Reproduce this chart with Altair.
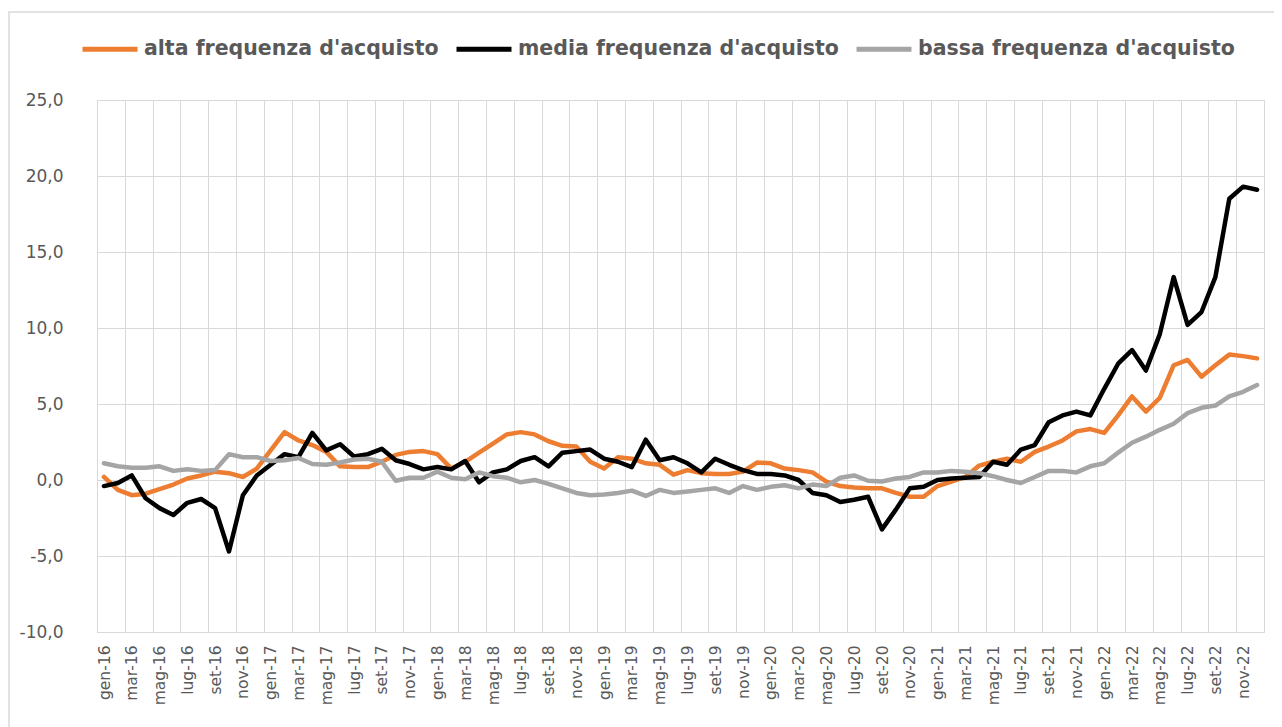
import altair as alt
import pandas as pd

mesi_abbr = ["gen", "feb", "mar", "apr", "mag", "giu", "lug", "ago", "set", "ott", "nov", "dic"]
anni = ["16", "17", "18", "19", "20", "21", "22"]
mesi = [f"{m}-{a}" for a in anni for m in mesi_abbr]

alta = [0.2, -0.65, -1.0, -0.9, -0.6, -0.3, 0.1, 0.3, 0.55, 0.45, 0.2, 0.75,
        1.95, 3.15, 2.6, 2.3, 1.85, 0.9, 0.85, 0.85, 1.2, 1.65, 1.85, 1.9,
        1.7, 0.75, 1.2, 1.8, 2.4, 3.0, 3.15, 3.0, 2.55, 2.25, 2.2, 1.2,
        0.75, 1.5, 1.4, 1.1, 1.0, 0.35, 0.65, 0.45, 0.4, 0.4, 0.55, 1.15,
        1.1, 0.75, 0.65, 0.5, -0.1, -0.4, -0.5, -0.55, -0.55, -0.85, -1.1, -1.1,
        -0.4, -0.1, 0.2, 0.95, 1.2, 1.4, 1.2, 1.85, 2.2, 2.6, 3.2, 3.35,
        3.1, 4.25, 5.5, 4.5, 5.4, 7.55, 7.9, 6.8, 7.55, 8.25, 8.15, 8.0]

media = [-0.4, -0.2, 0.3, -1.2, -1.85, -2.3, -1.5, -1.25, -1.85, -4.7, -1.0, 0.3,
         1.0, 1.7, 1.5, 3.1, 1.95, 2.35, 1.55, 1.7, 2.05, 1.3, 1.05, 0.7,
         0.85, 0.7, 1.25, -0.15, 0.5, 0.7, 1.25, 1.5, 0.9, 1.8, 1.9, 2.0,
         1.4, 1.2, 0.85, 2.65, 1.3, 1.5, 1.1, 0.5, 1.4, 1.0, 0.65, 0.4,
         0.4, 0.3, 0.0, -0.85, -1.0, -1.45, -1.3, -1.1, -3.25, -1.95, -0.55, -0.45,
         0.0, 0.1, 0.15, 0.2, 1.2, 1.0, 2.0, 2.3, 3.8, 4.25, 4.5, 4.25,
         6.0, 7.65, 8.55, 7.2, 9.6, 13.35, 10.2, 11.05, 13.35, 18.5, 19.3, 19.1]

bassa = [1.1, 0.9, 0.8, 0.8, 0.9, 0.6, 0.7, 0.6, 0.65, 1.7, 1.5, 1.5,
         1.25, 1.3, 1.45, 1.05, 1.0, 1.15, 1.35, 1.4, 1.2, -0.05, 0.15, 0.15,
         0.55, 0.15, 0.05, 0.5, 0.25, 0.15, -0.15, 0.0, -0.25, -0.55, -0.85, -1.0,
         -0.95, -0.85, -0.7, -1.05, -0.65, -0.85, -0.75, -0.65, -0.55, -0.85, -0.4, -0.65,
         -0.45, -0.35, -0.55, -0.3, -0.4, 0.15, 0.3, -0.05, -0.1, 0.1, 0.2, 0.5,
         0.5, 0.6, 0.55, 0.45, 0.25, 0.0, -0.2, 0.2, 0.6, 0.6, 0.5, 0.9,
         1.1, 1.8, 2.45, 2.85, 3.3, 3.7, 4.4, 4.75, 4.9, 5.5, 5.8, 6.25]

serie = ["alta frequenza d'acquisto", "media frequenza d'acquisto", "bassa frequenza d'acquisto"]
colori = ["#ED7D31", "#000000", "#A5A5A5"]
y_ticks = [-10, -5, 0, 5, 10, 15, 20, 25]

n = len(mesi)
# category boundaries every two months (gridlines), labels at category centres
x_grid = [i - 0.5 for i in range(0, n + 1, 2)]
mesi_js = "[" + ",".join(f"'{m}'" for m in mesi) + "]"
x_label_expr = f"datum.value + 0.5 < {n} ? {mesi_js}[datum.value + 0.5] : ''"

rows = []
for nome, vals in zip(serie, [alta, media, bassa]):
    for i, (m, v) in enumerate(zip(mesi, vals)):
        rows.append({"idx": i, "mese": m, "valore": v, "serie": nome})
df = pd.DataFrame(rows)

lines = alt.Chart(df).mark_line(strokeWidth=4.5, strokeJoin="round", strokeCap="round").encode(
    x=alt.X("idx:Q",
            scale=alt.Scale(domain=[-0.5, n - 0.5], nice=False, zero=False),
            axis=alt.Axis(title=None, values=x_grid, labelExpr=x_label_expr, labelAngle=-90,
                          labelFontSize=15.5, labelPadding=13, labelOffset=7, ticks=False,
                          labelFlush=False, labelOverlap=False, labelBound=False,
                          domainColor="#d9d9d9", gridColor="#d9d9d9", grid=True)),
    y=alt.Y("valore:Q", scale=alt.Scale(domain=[-10, 25], nice=False, zero=False),
            axis=alt.Axis(title=None, values=y_ticks, tickSize=0, ticks=False, domain=False,
                          labelFontSize=17, labelPadding=34, gridColor="#d9d9d9",
                          labelExpr="replace(replace(format(datum.value, '.1f'), '.', ','), '\u2212', '-')")),
    color=alt.Color("serie:N", sort=serie,
                    scale=alt.Scale(domain=serie, range=colori),
                    legend=alt.Legend(title=None, orient="none", direction="horizontal",
                                      legendX=-17, legendY=-81,
                                      symbolType="stroke", symbolSize=3025, symbolStrokeWidth=5,
                                      labelFontSize=20.5, labelFontWeight="bold", labelColor="#595959",
                                      labelOffset=4, columnPadding=7, labelLimit=400)),
    detail="serie:N",
)

border = alt.Chart(pd.DataFrame({"a": [0]})).mark_rect(
    fillOpacity=0, stroke="#d9d9d9", strokeWidth=1.5
).encode(x=alt.value(-88), x2=alt.value(1200), y=alt.value(-88), y2=alt.value(720))

chart = alt.layer(border, lines).properties(
    width=1167, height=532,
    autosize=alt.AutoSizeParams(type="none"),
    padding={"left": 89, "top": 92, "right": 10, "bottom": 95},
).configure(font="DejaVu Sans").configure_axis(
    labelColor="#595959", labelFont="DejaVu Sans"
).configure_legend(labelFont="DejaVu Sans").configure_view(stroke="#d9d9d9")

chart.save("out.html", embed_options={"renderer": "svg", "actions": False})
